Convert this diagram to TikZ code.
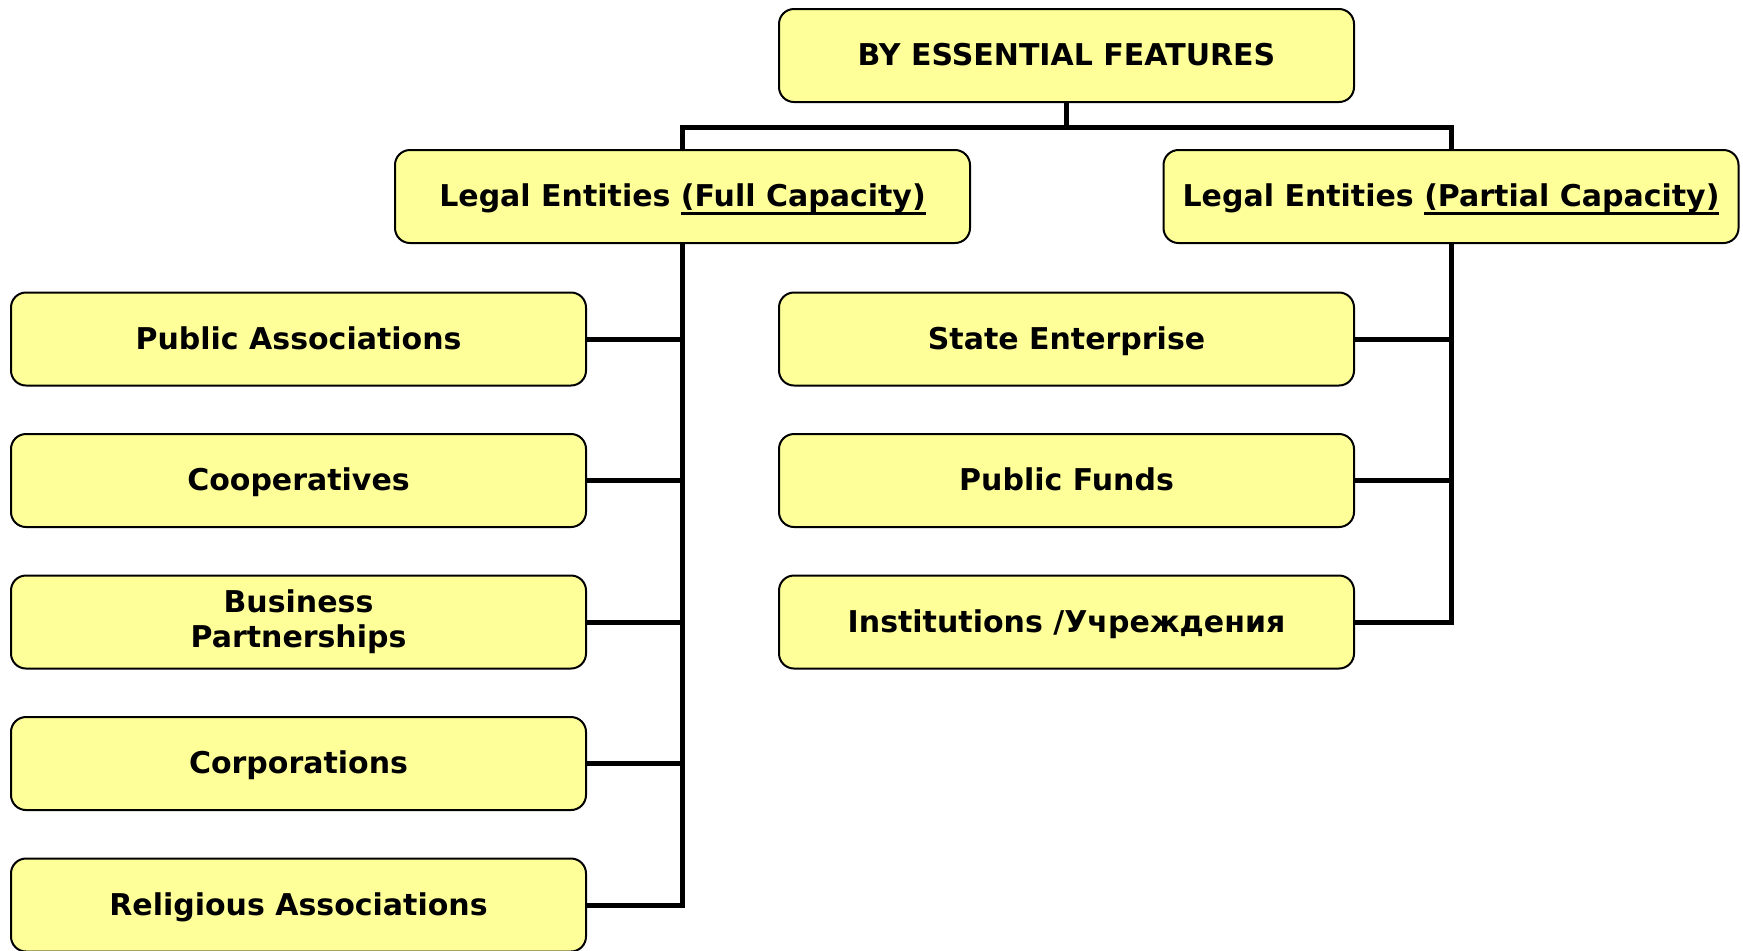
\documentclass[tikz,border=0pt]{standalone}
\usepackage{fontspec}
\setmainfont{DejaVu Sans}
\usepackage{tikz}
\definecolor{boxfill}{HTML}{FFFF99}
\def\ul#1{\setbox0\hbox{#1}\rlap{\rule[-4.2pt]{\wd0}{1.3pt}}\box0}

\begin{document}
\begin{tikzpicture}[x=0.5pt,y=-0.5pt,
    box/.style={draw=black,fill=boxfill,line width=1pt,rounded corners=7.5pt,
      minimum width=287.5pt,minimum height=46.5pt,align=center,
      font=\bfseries\fontsize{15}{17.5}\selectfont},
    oneline/.style={box,text height=11.5pt,text depth=1.5pt},
    link/.style={line width=2.5pt}]
  \useasboundingbox (0,0) rectangle (1743,950);
  \node[oneline] (top) at (1066.5,55.5) {BY ESSENTIAL FEATURES};
  \node[oneline] (full) at (682.5,196.5) {Legal Entities \ul{(Full Capacity)}};
  \node[oneline] (part) at (1451,196.5) {Legal Entities \ul{(Partial Capacity)}};
  \node[oneline] (pa) at (298.5,339) {Public Associations};
  \node[oneline] (coop) at (298.5,480.5) {Cooperatives};
  \node[box] (bp) at (298.5,622) {Business\\Partnerships};
  \node[oneline] (corp) at (298.5,763.5) {Corporations};
  \node[oneline] (ra) at (298.5,905) {Religious Associations};
  \node[oneline] (se) at (1066.5,339) {State Enterprise};
  \node[oneline] (pf) at (1066.5,480.5) {Public Funds};
  \node[oneline] (inst) at (1066.5,622) {Institutions /Учреждения};
  \coordinate (bus) at (1066.5,127);
  \draw[link] (top) -- (bus);
  \draw[link] (full) |- (bus) -| (part);
  \foreach \c in {pa,coop,bp,corp,ra}
    \draw[link] (full) |- (\c);
  \foreach \c in {se,pf,inst}
    \draw[link] (part) |- (\c);
\end{tikzpicture}
\end{document}
